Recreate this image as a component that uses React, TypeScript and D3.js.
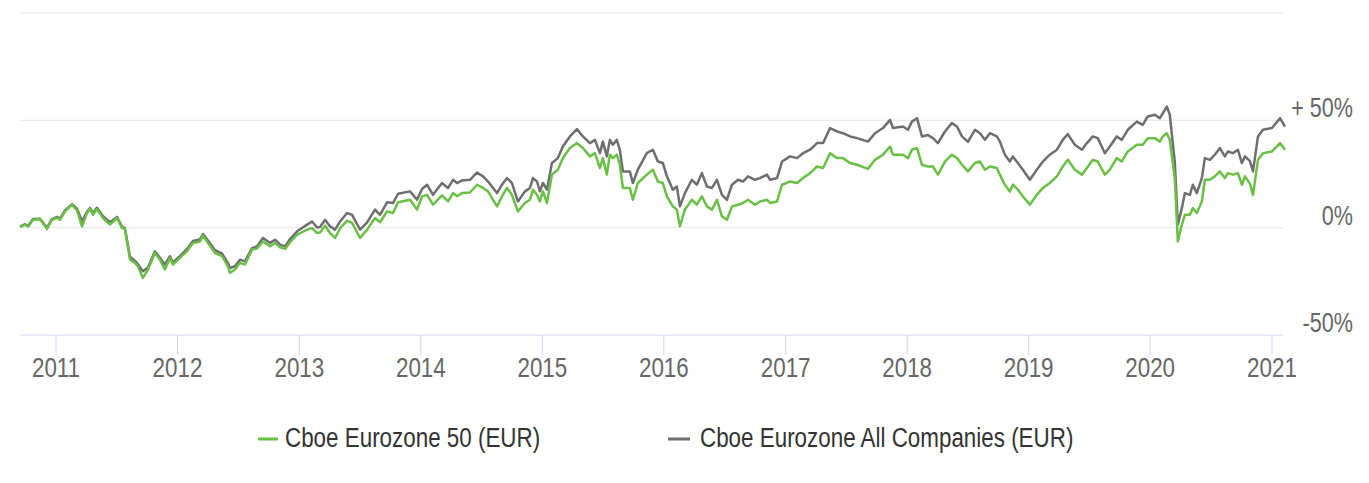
import React from "react";
import * as d3 from "d3";

// Time as decimal years
const dates = [
  2010.704, 2010.745, 2010.77, 2010.811, 2010.868, 2010.926, 2010.967, 2011.008, 2011.033, 2011.074,
  2011.132, 2011.173, 2011.214, 2011.255, 2011.28, 2011.304, 2011.337, 2011.387, 2011.444, 2011.502,
  2011.543, 2011.567, 2011.609, 2011.65, 2011.674, 2011.715, 2011.757, 2011.814, 2011.855, 2011.896,
  2011.938, 2011.962, 2012.02, 2012.077, 2012.127, 2012.184, 2012.209, 2012.25, 2012.308, 2012.365,
  2012.414, 2012.431, 2012.472, 2012.513, 2012.554, 2012.612, 2012.653, 2012.702, 2012.76, 2012.801,
  2012.842, 2012.883, 2012.924, 2012.982, 2013.064, 2013.105, 2013.146, 2013.171, 2013.212, 2013.253,
  2013.294, 2013.336, 2013.393, 2013.434, 2013.5, 2013.558, 2013.623, 2013.664, 2013.722, 2013.771,
  2013.813, 2013.911, 2013.969, 2014.01, 2014.051, 2014.1, 2014.174, 2014.224, 2014.265, 2014.298,
  2014.339, 2014.405, 2014.462, 2014.512, 2014.553, 2014.627, 2014.668, 2014.709, 2014.75, 2014.799,
  2014.857, 2014.898, 2014.923, 2014.956, 2014.98, 2015.005, 2015.038, 2015.079, 2015.128, 2015.169,
  2015.227, 2015.285, 2015.334, 2015.391, 2015.433, 2015.474, 2015.498, 2015.531, 2015.556, 2015.581,
  2015.613, 2015.638, 2015.663, 2015.72, 2015.745, 2015.786, 2015.86, 2015.91, 2015.951, 2015.992,
  2016.025, 2016.074, 2016.107, 2016.132, 2016.173, 2016.23, 2016.271, 2016.312, 2016.354, 2016.395,
  2016.436, 2016.477, 2016.518, 2016.559, 2016.609, 2016.65, 2016.691, 2016.748, 2016.789, 2016.847,
  2016.872, 2016.929, 2016.97, 2017.036, 2017.094, 2017.143, 2017.201, 2017.258, 2017.308, 2017.365,
  2017.423, 2017.472, 2017.53, 2017.587, 2017.678, 2017.735, 2017.801, 2017.859, 2017.883, 2017.965,
  2018.007, 2018.039, 2018.081, 2018.122, 2018.171, 2018.212, 2018.253, 2018.311, 2018.368, 2018.41,
  2018.451, 2018.5, 2018.558, 2018.599, 2018.64, 2018.681, 2018.738, 2018.763, 2018.804, 2018.845,
  2018.87, 2018.911, 2018.952, 2019.01, 2019.067, 2019.117, 2019.174, 2019.232, 2019.281, 2019.322,
  2019.38, 2019.438, 2019.479, 2019.528, 2019.569, 2019.627, 2019.668, 2019.725, 2019.766, 2019.816,
  2019.89, 2019.939, 2019.98, 2020.038, 2020.079, 2020.104, 2020.137, 2020.161, 2020.202, 2020.227,
  2020.26, 2020.285, 2020.326, 2020.35, 2020.383, 2020.424, 2020.449, 2020.49, 2020.531, 2020.572,
  2020.613, 2020.638, 2020.679, 2020.72, 2020.753, 2020.778, 2020.819, 2020.844, 2020.885, 2020.926,
  2021.0, 2021.066, 2021.107,
];

// Cboe Eurozone 50 (EUR), % change
const eurozone50 = [
  0.3, 1.4, 0.6, 3.7, 4.0, -0.6, 3.7, 4.6, 3.7, 7.6,
  10.7, 8.0, 0.6, 6.8, 8.8, 6.0, 8.7, 4.5, 1.4, 4.5,
  -0.1, -0.6, -14.9, -16.4, -18.0, -23.4, -19.5, -11.8, -14.9, -19.5,
  -14.1, -17.2, -14.1, -11.0, -7.1, -6.4, -3.7, -7.1, -11.8, -13.3,
  -18.0, -21.0, -19.5, -16.4, -17.2, -10.2, -9.7, -6.4, -8.7, -7.1,
  -9.2, -9.9, -6.8, -3.3, -0.9, -0.2, -2.5, -2.2, 0.9, -2.5,
  -4.8, -0.2, 3.3, 2.2, -4.8, -0.9, 4.5, 2.5, 7.6, 6.8,
  11.8, 13.0, 8.4, 14.6, 15.3, 10.7, 15.0, 12.2, 16.1, 14.6,
  16.1, 16.4, 20.0, 18.5, 16.9, 9.9, 14.6, 18.5, 15.3, 7.6,
  11.5, 13.0, 17.7, 15.3, 12.2, 16.9, 11.5, 24.7, 27.0, 32.4,
  37.1, 39.4, 37.1, 33.2, 34.7, 27.8, 32.4, 24.7, 34.0, 32.4,
  34.0, 29.3, 18.5, 18.5, 13.0, 20.8, 24.7, 27.0, 21.5, 20.8,
  14.6, 9.9, 8.4, 0.6, 8.4, 13.0, 10.7, 14.6, 9.9, 8.4,
  13.0, 5.3, 3.7, 9.9, 10.7, 11.5, 13.0, 10.7, 12.2, 13.0,
  11.5, 12.2, 20.0, 21.5, 20.8, 23.1, 25.4, 28.5, 27.8, 34.7,
  32.4, 32.4, 30.1, 29.3, 27.4, 31.6, 34.0, 37.8, 34.0, 34.0,
  32.4, 36.3, 37.1, 29.3, 28.5, 28.5, 24.7, 30.8, 34.0, 32.4,
  29.3, 26.2, 30.1, 30.8, 27.0, 28.5, 27.8, 24.7, 20.0, 16.9,
  20.0, 17.7, 14.6, 10.7, 15.3, 18.5, 20.8, 23.9, 28.5, 31.6,
  27.0, 24.7, 27.8, 31.6, 30.8, 24.7, 27.0, 32.4, 30.8, 35.5,
  38.6, 38.6, 41.7, 41.7, 40.1, 42.5, 44.0, 40.9, 23.1, -6.4,
  1.4, 6.0, 6.0, 9.1, 6.8, 12.2, 22.3, 22.3, 23.9, 26.2,
  23.1, 25.4, 24.7, 25.4, 20.0, 23.9, 20.5, 15.3, 31.6, 34.7,
  35.5, 39.4, 36.3,
];

// Cboe Eurozone All Companies (EUR), % change
const eurozoneAll = [
  0.5, 1.6, 0.8, 4.0, 4.2, 0.0, 4.0, 5.0, 4.2, 8.0,
  11.0, 8.8, 3.0, 7.4, 9.2, 6.8, 9.3, 5.3, 2.5, 5.0,
  0.5, -0.2, -13.5, -15.5, -17.0, -20.3, -18.5, -11.0, -14.0, -17.2,
  -13.3, -16.2, -13.3, -10.0, -6.2, -5.5, -3.0, -6.0, -10.5, -12.0,
  -16.5, -18.8, -18.0, -14.9, -15.7, -9.5, -8.7, -4.8, -7.1, -5.6,
  -7.9, -8.7, -5.3, -1.7, 1.4, 2.9, 0.1, 0.3, 3.7, 0.6,
  -0.9, 2.9, 6.8, 6.0, -0.9, 2.5, 8.4, 6.0, 11.8, 11.5,
  15.8, 16.9, 13.0, 18.0, 20.0, 15.3, 20.8, 18.5, 22.3, 20.8,
  22.0, 22.3, 25.7, 23.9, 21.5, 16.1, 20.0, 23.1, 20.8, 12.2,
  16.9, 18.5, 23.1, 21.5, 16.9, 20.8, 17.7, 30.1, 32.4, 37.8,
  42.5, 45.9, 42.5, 39.4, 40.9, 34.7, 40.1, 33.2, 40.9, 38.6,
  40.9, 36.3, 26.2, 26.2, 20.8, 27.0, 34.7, 36.3, 30.8, 30.1,
  23.9, 17.7, 19.2, 9.9, 16.1, 22.3, 20.0, 25.4, 19.2, 18.5,
  22.3, 15.3, 13.0, 20.0, 22.3, 21.5, 23.9, 22.3, 23.1, 24.7,
  22.3, 23.1, 30.8, 33.2, 32.4, 34.7, 36.3, 39.4, 39.4, 46.4,
  44.8, 44.0, 42.5, 41.7, 40.1, 44.0, 46.4, 50.2, 46.4, 47.1,
  45.6, 49.4, 51.0, 42.5, 43.2, 41.7, 39.4, 44.8, 48.7, 47.1,
  42.5, 40.0, 45.6, 44.0, 40.9, 44.0, 42.5, 40.1, 34.0, 30.8,
  33.2, 30.1, 27.0, 22.3, 27.0, 30.8, 34.0, 36.3, 40.9, 43.6,
  38.6, 36.3, 39.4, 42.5, 41.7, 34.7, 37.8, 42.5, 40.9, 45.6,
  49.4, 47.9, 51.8, 52.6, 51.0, 53.3, 56.4, 52.6, 30.8, 1.4,
  9.1, 16.1, 15.3, 20.0, 16.1, 23.1, 32.4, 31.6, 34.0, 37.1,
  33.2, 35.5, 34.7, 36.3, 30.1, 33.2, 31.0, 26.2, 42.5, 45.6,
  46.4, 51.0, 47.1,
];

const yearTicks = [2011, 2012, 2013, 2014, 2015, 2016, 2017, 2018, 2019, 2020, 2021];
const yTicks = [-50, 0, 50, 100];
const yLabels = ["-50%", "0%", "+ 50%", ""];
const seriesNames = ["Cboe Eurozone 50 (EUR)", "Cboe Eurozone All Companies (EUR)"];
const seriesColors = ["#6abf45", "#6e6e6e"];

function toDate(y: number): Date {
  const yr = Math.floor(y);
  const s = Date.UTC(yr, 0, 1);
  const e = Date.UTC(yr + 1, 0, 1);
  return new Date(s + (y - yr) * (e - s));
}

const W = 1369;
const H = 483;
const FONT = "'Liberation Sans', Arial, sans-serif";
const NARROW = 0.8;

function NText(props: {
  x: number;
  y: number;
  anchor?: "start" | "middle" | "end";
  size: number;
  fill: string;
  children: React.ReactNode;
}) {
  return (
    <text
      transform={`translate(${props.x},${props.y}) scale(${NARROW},1)`}
      textAnchor={props.anchor || "start"}
      fontSize={props.size}
      fill={props.fill}
    >
      {props.children}
    </text>
  );
}

export default function App() {
  const x = d3.scaleTime().domain([toDate(2011), toDate(2021)]).range([56, 1272]);
  const y = d3.scaleLinear().domain([-50, 100]).range([335, 13]);
  const plotLeft = 20;
  const plotRight = 1283;

  const mk = (vals: number[]) =>
    d3
      .line<number>()
      .x((_, i) => x(toDate(dates[i])))
      .y((v) => y(v))(vals) || "";

  const gridColor = "#e6e6e6";
  const axisColor = "#ccd6eb";
  const textColor = "#666666";

  return (
    <svg
      width={W}
      height={H}
      style={{ position: "absolute", left: 0, top: 0, background: "#ffffff" }}
      fontFamily={FONT}
    >
      <rect x={0} y={0} width={W} height={H} fill="#ffffff" />
      {yTicks.map((t) =>
        t === -50 ? null : (
          <line key={"g" + t} x1={plotLeft} x2={plotRight} y1={y(t)} y2={y(t)} stroke={gridColor} strokeWidth={1} />
        )
      )}
      {yTicks.map((t, i) => (
        <NText key={"yl" + t} x={1353} y={y(t) - 3} anchor="end" size={27} fill={textColor}>
          {yLabels[i]}
        </NText>
      ))}
      <line x1={plotLeft} x2={plotRight} y1={y(-50)} y2={y(-50)} stroke={axisColor} strokeWidth={1} />
      {yearTicks.map((yr) => (
        <g key={"xt" + yr}>
          <line x1={x(toDate(yr))} x2={x(toDate(yr))} y1={y(-50)} y2={y(-50) + 20} stroke={axisColor} strokeWidth={1} />
          <NText x={x(toDate(yr))} y={377} anchor="middle" size={28} fill={textColor}>
            {yr}
          </NText>
        </g>
      ))}
      <path d={mk(eurozoneAll)} fill="none" stroke={seriesColors[1]} strokeWidth={2.5} strokeLinejoin="round" />
      <path d={mk(eurozone50)} fill="none" stroke={seriesColors[0]} strokeWidth={2.5} strokeLinejoin="round" />
      {/* Legend */}
      <g>
        <line x1={258} x2={278} y1={439} y2={439} stroke={seriesColors[0]} strokeWidth={3} />
        <NText x={285} y={447} size={28} fill="#333333">{seriesNames[0]}</NText>
        <line x1={668} x2={690} y1={439} y2={439} stroke={seriesColors[1]} strokeWidth={3} />
        <NText x={700} y={447} size={28} fill="#333333">{seriesNames[1]}</NText>
      </g>
    </svg>
  );
}
